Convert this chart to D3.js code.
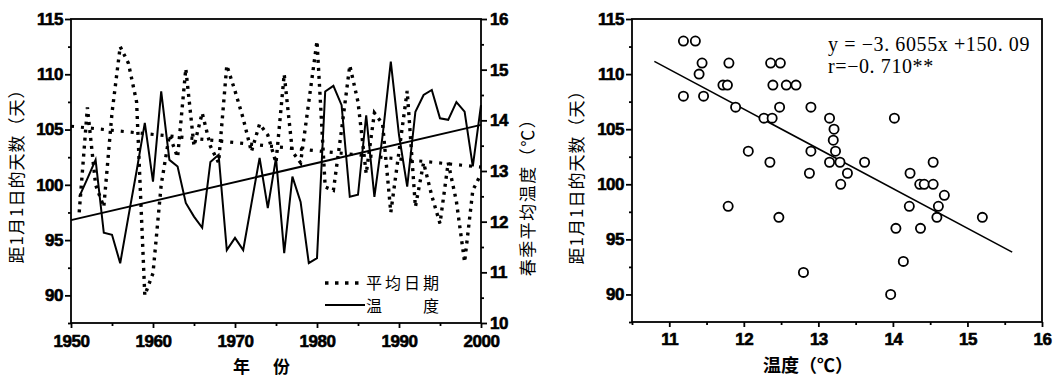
<!DOCTYPE html>
<html>
<head>
<meta charset="utf-8">
<script src="https://cdn.jsdelivr.net/npm/d3@7"></script>
<style>
  body { margin: 0; background: #fff; }
  .num { font-family: "Liberation Sans", Arial, sans-serif; font-weight: bold; font-size: 17px; stroke: #000; stroke-width: 0.6px; letter-spacing: -0.5px; }
  .cjk { font-family: "Noto Sans CJK SC", sans-serif; }
  .eq { font-family: "Liberation Serif", "Times New Roman", serif; font-size: 20px; }
</style>
</head>
<body>
<svg id="chart" width="1060" height="377"></svg>
<script>
// ---- data ----
var years = d3.range(1951, 2001);
var days = [97.5, 107, 100, 98, 106.5, 112.5, 111, 107.5, 90, 92,
            100, 104.5, 102.5, 110.5, 103.5, 106.5, 103.5, 102, 110.8, 108.5,
            106, 103, 105.5, 104.5, 102, 110, 103, 102, 107.5, 113,
            99.8, 99.5, 105, 110.8, 107.5, 101, 106.5, 105.5, 97.5, 103,
            108.5, 98, 102, 99, 96.5, 102, 98.5, 93, 99.5, 101];
var temps = [12.49, 12.85, 13.22, 11.78, 11.74, 11.18, 12.1, 13.0, 13.95, 12.79,
             14.57, 13.22, 13.09, 12.37, 12.1, 11.88, 13.18, 13.32, 11.44, 11.68,
             11.44, 12.35, 13.26, 12.27, 13.26, 11.38, 12.89, 12.39, 11.18, 11.28,
             14.57, 14.68, 14.30, 12.49, 12.53, 14.1, 12.49, 13.7, 15.16, 13.71,
             12.69, 14.17, 14.5, 14.6, 14.04, 14.01, 14.36, 14.17, 13.09, 14.3];
var trendYears = [1950, 2000];
var tempTrend = [12.03, 13.91];
var daysTrend = [105.3, 101.6];

var scatterTemp = [11.19, 11.35, 11.44, 11.40, 11.19, 11.46, 11.72, 11.78, 11.80, 11.89,
                   12.27, 12.38, 12.06, 12.35, 12.36, 12.49, 12.39, 12.57, 12.70, 12.48,
                   12.90, 12.90, 12.88, 13.15, 13.21, 13.20, 13.23, 13.15, 13.29, 13.62,
                   14.02, 13.39, 13.30, 14.23, 14.36, 14.42, 14.54, 14.54, 14.69, 14.22,
                   14.61, 14.59, 15.20, 14.04, 14.37, 14.14, 13.97, 12.80, 11.79, 12.47];
var scatterDays = [113, 113, 111, 110, 108, 108, 109, 109, 111, 107,
                   106, 106, 103, 102, 111, 111, 109, 109, 109, 107,
                   107, 103, 101, 106, 105, 104, 103, 102, 102, 102,
                   106, 101, 100, 101, 100, 100, 100, 102, 99, 98,
                   98, 97, 97, 96, 96, 93, 90, 92, 98, 97];
var fitSlope = -3.6055, fitIntercept = 150.09;
var fitRange = [10.8, 15.6];

var dayTicks = [90, 95, 100, 105, 110, 115];
var dayMinor = [87.5, 92.5, 97.5, 102.5, 107.5, 112.5];
var tempTicks = [10, 11, 12, 13, 14, 15, 16];
var tempMinor = [10.5, 11.5, 12.5, 13.5, 14.5, 15.5];
var yearTicks = [1950, 1960, 1970, 1980, 1990, 2000];
var yearMinor = [1955, 1965, 1975, 1985, 1995];
var sTempTicks = [11, 12, 13, 14, 15, 16];
var sTempMinor = [10.5, 11.5, 12.5, 13.5, 14.5, 15.5];

var svg = d3.select("#chart");
var fmt = d3.format("d");

function styleAxis(g) {
  g.attr("font-family", null).attr("font-size", null);
  g.selectAll("text").attr("class", "num").attr("fill", "#000");
  g.selectAll("line").attr("stroke", "#000").attr("stroke-width", 1.8);
  g.select(".domain").remove();
}

// ---------- left chart ----------
var L = {l: 71, r: 481, t: 19, b: 323};
var x1 = d3.scaleLinear().domain([1950, 2000]).range([L.l, L.r]);
var yDays = d3.scaleLinear().domain([87.5, 115]).range([L.b, L.t]);
var yTemp = d3.scaleLinear().domain([10, 16]).range([L.b, L.t]);

var left = svg.append("g");

left.append("g").attr("transform", "translate(0," + L.b + ")")
  .call(d3.axisBottom(x1).tickValues(yearTicks).tickFormat(fmt).tickSize(5).tickPadding(7))
  .call(styleAxis);
left.append("g").attr("transform", "translate(0," + L.b + ")")
  .call(d3.axisBottom(x1).tickValues(yearMinor).tickFormat("").tickSize(3))
  .call(styleAxis);
left.append("g").attr("transform", "translate(" + L.l + ",0)")
  .call(d3.axisLeft(yDays).tickValues(dayTicks).tickFormat(fmt).tickSize(6).tickPadding(2))
  .call(styleAxis);
left.append("g").attr("transform", "translate(" + L.l + ",0)")
  .call(d3.axisLeft(yDays).tickValues(dayMinor).tickFormat("").tickSize(3))
  .call(styleAxis);
left.append("g").attr("transform", "translate(" + L.r + ",0)")
  .call(d3.axisRight(yTemp).tickValues(tempTicks).tickFormat(fmt).tickSize(6).tickPadding(3))
  .call(styleAxis);
left.append("g").attr("transform", "translate(" + L.r + ",0)")
  .call(d3.axisRight(yTemp).tickValues(tempMinor).tickFormat("").tickSize(3))
  .call(styleAxis);

left.append("rect")
  .attr("x", L.l).attr("y", L.t).attr("width", L.r - L.l).attr("height", L.b - L.t)
  .attr("fill", "none").attr("stroke", "#000").attr("stroke-width", 1.8);

var tempLine = d3.line()
  .x(function(d, i) { return x1(years[i]); })
  .y(function(d) { return yTemp(d); });
var daysLine = d3.line()
  .x(function(d, i) { return x1(years[i]); })
  .y(function(d) { return yDays(d); });

left.append("path").datum(temps)
  .attr("d", tempLine)
  .attr("fill", "none").attr("stroke", "#000").attr("stroke-width", 2)
  .attr("stroke-linejoin", "miter");
left.append("path").datum(days)
  .attr("d", daysLine)
  .attr("fill", "none").attr("stroke", "#000").attr("stroke-width", 3.4)
  .attr("stroke-dasharray", "3,5");

// trend lines
left.append("line")
  .attr("x1", x1(trendYears[0])).attr("x2", x1(trendYears[1]))
  .attr("y1", yTemp(tempTrend[0])).attr("y2", yTemp(tempTrend[1]))
  .attr("stroke", "#000").attr("stroke-width", 2);
left.append("line")
  .attr("x1", x1(trendYears[0])).attr("x2", x1(trendYears[1]))
  .attr("y1", yDays(daysTrend[0])).attr("y2", yDays(daysTrend[1]))
  .attr("stroke", "#000").attr("stroke-width", 3.2)
  .attr("stroke-dasharray", "3,7");

// legend
left.append("line").attr("x1", 325).attr("x2", 365).attr("y1", 283).attr("y2", 283)
  .attr("stroke", "#000").attr("stroke-width", 3.4).attr("stroke-dasharray", "3.5,6.5");
left.append("line").attr("x1", 325).attr("x2", 365).attr("y1", 305).attr("y2", 305)
  .attr("stroke", "#000").attr("stroke-width", 2);
left.append("text").attr("class", "cjk").attr("x", 366).attr("y", 289)
  .attr("font-size", 16).attr("letter-spacing", 3).text("平均日期");
left.append("text").attr("class", "cjk").attr("x", 366).attr("y", 312)
  .attr("font-size", 16).attr("letter-spacing", 3).text("温\u3000\u3000度");

// titles
left.append("text").attr("class", "cjk")
  .attr("transform", "translate(23,172) rotate(-90)")
  .attr("text-anchor", "middle").attr("font-size", 17).attr("letter-spacing", 1)
  .text("距1月1日的天数（天）");
left.append("text").attr("class", "cjk")
  .attr("transform", "translate(534,193) rotate(-90)")
  .attr("text-anchor", "middle").attr("font-size", 17).attr("letter-spacing", 1.5)
  .text("春季平均温度（℃）");
left.append("text").attr("class", "cjk").attr("font-weight", "bold")
  .attr("x", 233).attr("y", 373).attr("font-size", 17).text("年");
left.append("text").attr("class", "cjk").attr("font-weight", "bold")
  .attr("x", 273).attr("y", 373).attr("font-size", 17).text("份");

// ---------- right chart ----------
var R = {l: 632, r: 1042, t: 19, b: 322};
var x2 = d3.scaleLinear().domain([10.5, 16]).range([R.l, R.r]);
var y2 = d3.scaleLinear().domain([87.5, 115]).range([R.b, R.t]);

var right = svg.append("g");

right.append("g").attr("transform", "translate(0," + R.b + ")")
  .call(d3.axisBottom(x2).tickValues(sTempTicks).tickFormat(fmt).tickSize(5).tickPadding(6))
  .call(styleAxis);
right.append("g").attr("transform", "translate(0," + R.b + ")")
  .call(d3.axisBottom(x2).tickValues(sTempMinor).tickFormat("").tickSize(3))
  .call(styleAxis);
right.append("g").attr("transform", "translate(" + R.l + ",0)")
  .call(d3.axisLeft(y2).tickValues(dayTicks).tickFormat(fmt).tickSize(6).tickPadding(2))
  .call(styleAxis);
right.append("g").attr("transform", "translate(" + R.l + ",0)")
  .call(d3.axisLeft(y2).tickValues(dayMinor).tickFormat("").tickSize(3))
  .call(styleAxis);

right.append("rect")
  .attr("x", R.l).attr("y", R.t).attr("width", R.r - R.l).attr("height", R.b - R.t)
  .attr("fill", "none").attr("stroke", "#000").attr("stroke-width", 1.8);

right.append("line")
  .attr("x1", x2(fitRange[0])).attr("x2", x2(fitRange[1]))
  .attr("y1", y2(fitSlope * fitRange[0] + fitIntercept))
  .attr("y2", y2(fitSlope * fitRange[1] + fitIntercept))
  .attr("stroke", "#000").attr("stroke-width", 1.6);

right.selectAll("circle.pt")
  .data(scatterTemp)
  .enter()
  .append("circle")
  .attr("class", "pt")
  .attr("cx", function(d) { return x2(d); })
  .attr("cy", function(d, i) { return y2(scatterDays[i]); })
  .attr("r", 4.6)
  .attr("fill", "#fff").attr("stroke", "#000").attr("stroke-width", 1.8);

right.append("text").attr("class", "eq").attr("x", 828).attr("y", 51)
  .attr("letter-spacing", 0.6)
  .text("y = \u22123. 6055x +150. 09");
right.append("text").attr("class", "eq").attr("x", 828).attr("y", 73)
  .attr("letter-spacing", 0.6)
  .text("r=\u22120. 710**");

right.append("text").attr("class", "cjk")
  .attr("transform", "translate(583,173) rotate(-90)")
  .attr("text-anchor", "middle").attr("font-size", 17).attr("letter-spacing", 1)
  .text("距1月1日的天数（天）");
right.append("text").attr("class", "cjk").attr("font-weight", "bold")
  .attr("x", 808).attr("y", 372).attr("text-anchor", "middle").attr("font-size", 18)
  .text("温度（℃）");
</script>
</body>
</html>
